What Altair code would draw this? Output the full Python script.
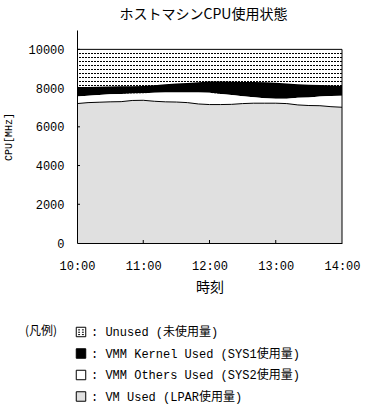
import altair as alt
import pandas as pd
import numpy as np

times = ["10:00", "10:10", "10:20", "10:30", "10:40", "10:50",
         "11:00", "11:10", "11:20", "11:30", "11:40", "11:50",
         "12:00", "12:10", "12:20", "12:30", "12:40", "12:50",
         "13:00", "13:10", "13:20", "13:30", "13:40", "13:50", "14:00"]
vm_used = [7200, 7250, 7270, 7290, 7300, 7360, 7370, 7320, 7290, 7280, 7250, 7180,
           7150, 7150, 7160, 7200, 7220, 7220, 7220, 7200, 7130, 7100, 7090, 7040, 7010]
vmm_others = [360, 350, 370, 390, 400, 360, 370, 440, 480, 490, 520, 590,
              610, 550, 480, 380, 310, 260, 230, 250, 370, 420, 470, 550, 590]
vmm_kernel = [500, 460, 430, 400, 390, 380, 370, 390, 430, 470, 490, 530,
              580, 640, 690, 740, 790, 820, 820, 790, 700, 650, 600, 540, 510]
unused = [1940, 1940, 1930, 1920, 1910, 1900, 1890, 1850, 1800, 1760, 1740, 1700,
          1660, 1660, 1670, 1680, 1680, 1700, 1730, 1760, 1800, 1830, 1840, 1870, 1890]
capacity = 10000

names = ["Unused (未使用量)", "VMM Kernel Used (SYS1使用量)",
         "VMM Others Used (SYS2使用量)", "VM Used (LPAR使用量)"]
fills = ["transparent", "black", "white", "#e0e0e0"]
stack_order = [3, 2, 1, 0]

x_ticks = ["10:00", "11:00", "12:00", "13:00", "14:00"]
y_ticks = [0, 2000, 4000, 6000, 8000, 10000]

DAY = "2024-01-01 "
t = pd.to_datetime([DAY + s for s in times])

rows = []
for name, vals, o in zip(names, [unused, vmm_kernel, vmm_others, vm_used], stack_order):
    for ti, v in zip(t, vals):
        rows.append({"time": ti, "series": name, "value": v, "ord": o})
df = pd.DataFrame(rows)

def dt(s):
    h, m = s.split(":")
    return alt.DateTime(year=2024, month=1, date=1, hours=int(h), minutes=int(m))

MONO = "'Liberation Mono', 'Noto Sans CJK JP'"
JP = "'Noto Sans CJK JP'"

Y_MAX = 11000
PLOT_H = 213

x_scale = alt.Scale(domain=[dt(times[0]), dt(times[-1])])
y_scale = alt.Scale(domain=[0, Y_MAX], nice=False)

x_axis = alt.Axis(values=[dt(s) for s in x_ticks], format="%H:%M", ticks=False, grid=False,
                  labelFlush=False, domainColor="black", labelFont=MONO, labelFontSize=12,
                  labelColor="black", labelPadding=17, title="時刻", titleFont=JP,
                  titleFontSize=14, titleFontWeight="normal", titleColor="black",
                  titlePadding=9, zindex=1)
y_axis = alt.Axis(values=y_ticks, format="d", ticks=False, grid=False, domainColor="black",
                  labelFont=MONO, labelFontSize=12, labelColor="black", labelPadding=13,
                  title="CPU[MHz]", titleFont=MONO, titleFontSize=10, titleFontWeight="normal",
                  titleColor="black", titlePadding=14, zindex=1)

unused_shape = ("M-1,-1H1V1H-1Z M-0.6,-0.45H-0.2 M0.2,-0.45H0.6 "
                "M-0.6,0.05H-0.2 M0.2,0.05H0.6 M-0.6,0.55H-0.2 M0.2,0.55H0.6")

legend = alt.Legend(
    title="(凡例)", orient="none", legendX=-52, legendY=296, titleOrient="left",
    titleAnchor="start", titlePadding=17, titleFont=JP, titleFontSize=12,
    titleFontWeight="normal", titleColor="black", labelFont=MONO, labelFontSize=12,
    labelColor="black", labelExpr="': ' + datum.label", labelOffset=4,
    symbolType=alt.ExprRef(expr="datum.value === '%s' ? '%s' : 'square'" % (names[0], unused_shape)),
    symbolSize=90, symbolStrokeColor="black", symbolStrokeWidth=1, rowPadding=7.5, padding=0,
    labelLimit=400,
)

base_x = alt.X("time:T", scale=x_scale, axis=x_axis)

# dotted pattern rows for the unused region (one row every 4 px)
px = Y_MAX / PLOT_H
pattern_rows = np.arange(capacity - 4.14 * px, 7600, -4 * px)
pattern = alt.Chart(pd.DataFrame({"y": pattern_rows})).mark_rule(
    color="black", strokeWidth=1, strokeDash=[2, 1]
).encode(y=alt.Y("y:Q", scale=y_scale, axis=y_axis))

areas = alt.Chart(df).mark_area(interpolate="linear").encode(
    x=base_x,
    y=alt.Y("value:Q", stack="zero", scale=y_scale, axis=y_axis),
    color=alt.Color("series:N", scale=alt.Scale(domain=names, range=fills), legend=legend),
    order=alt.Order("ord:Q", sort="ascending"),
)

vm_line = alt.Chart(pd.DataFrame({"time": t, "v": vm_used})).mark_line(
    color="black", strokeWidth=1
).encode(x=base_x, y=alt.Y("v:Q", scale=y_scale))

cap_df = pd.DataFrame({"time": [t[-1]], "y0": [0], "y1": [capacity]})
top_rule = alt.Chart(cap_df).mark_rule(color="black", strokeWidth=1).encode(
    y=alt.Y("y1:Q", scale=y_scale))
right_rule = alt.Chart(cap_df).mark_rule(color="black", strokeWidth=1).encode(
    x=base_x, y=alt.Y("y0:Q", scale=y_scale), y2="y1:Q")

xt_df = pd.DataFrame({"time": pd.to_datetime([DAY + s for s in x_ticks[1:-1]])})
x_tick_marks = alt.Chart(xt_df).mark_rule(color="black", strokeWidth=1).encode(
    x=base_x, y=alt.value(PLOT_H), y2=alt.value(PLOT_H - 3))
yt_df = pd.DataFrame({"v": y_ticks[1:]})
y_tick_marks = alt.Chart(yt_df).mark_rule(color="black", strokeWidth=1).encode(
    y=alt.Y("v:Q", scale=y_scale), x=alt.value(0), x2=alt.value(3))

chart = alt.layer(pattern, areas, vm_line, top_rule, right_rule, x_tick_marks, y_tick_marks).properties(
    width=265, height=PLOT_H,
    padding={"left": 77, "top": 30, "right": 38, "bottom": 165},
    autosize=alt.AutoSizeParams(type="none"),
    title=alt.Title("ホストマシンCPU使用状態", font=JP, fontSize=14, fontWeight="normal",
                    color="black", offset=8, dx=-6),
    background="white",
).configure_view(stroke="transparent")

chart.save("out.html", embed_options={"renderer": "svg", "actions": False})
